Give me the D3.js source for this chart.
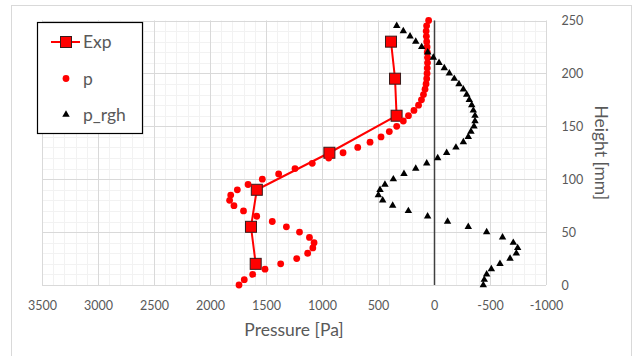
<!DOCTYPE html>
<html>
<head>
<meta charset="utf-8">
<script src="https://cdn.jsdelivr.net/npm/d3@7"></script>
<style>
  body { margin: 0; background: #fff; }
  svg { display: block; font-family: Lato, "Open Sans", sans-serif; }
</style>
</head>
<body>
<svg id="chart"></svg>
<script>
// Exp measurements
const expHeight = [20, 55, 90, 125, 160, 195, 230];
const expPressure = [1592, 1634, 1582, 934, 334, 348, 384];

// simulated p (5 mm steps, 0..250)
const pHeight = [0, 5, 10, 15, 20, 25, 30, 35, 40, 45, 50, 55, 60, 65, 70, 75, 80, 85, 90, 95,
  100, 105, 110, 115, 120, 125, 130, 135, 140, 145, 150, 155, 160, 165, 170, 175, 180, 185, 190, 195,
  200, 205, 210, 215, 220, 225, 230, 235, 240, 245, 250];
const pPressure = [1741, 1694, 1619, 1509, 1369, 1226, 1128, 1082, 1071, 1112, 1201, 1318, 1444, 1583, 1701, 1786, 1825, 1815, 1756, 1660,
  1533, 1387, 1241, 1087, 940, 812, 681, 571, 473, 399, 333, 274, 228, 179, 138, 112, 94, 80, 71, 65,
  62, 60, 58, 58, 60, 62, 65, 68, 70, 66, 48];

// simulated p_rgh (5 mm steps, 0..245)
const rghHeight = [0, 5, 10, 15, 20, 25, 30, 35, 40, 45, 50, 55, 60, 65, 70, 75, 80, 85, 90, 95,
  100, 105, 110, 115, 120, 125, 130, 135, 140, 145, 150, 155, 160, 165, 170, 175, 180, 185, 190, 195,
  200, 205, 210, 215, 220, 225, 230, 235, 240, 245];
const rghPressure = [-440, -449, -470, -512, -589, -679, -735, -747, -708, -612, -470, -306, -121, 57, 229, 369, 458, 497, 482, 438,
  363, 268, 163, 65, -33, -113, -196, -262, -306, -330, -357, -366, -366, -351, -337, -315, -292, -262, -223, -181,
  -137, -92, -45, 6, 56, 110, 163, 214, 274, 333];

const xTicks = [3500, 3000, 2500, 2000, 1500, 1000, 500, 0, -500, -1000];
const yTicks = [0, 50, 100, 150, 200, 250];
const legendLabels = ['Exp', 'p', 'p_rgh'];

const width = 636, height = 356;
const plot = { left: 42, right: 546, top: 20.5, bottom: 285 };
const textColor = '#595959';

const svg = d3.select('#chart')
  .attr('width', width)
  .attr('height', height);

// chart area border
svg.append('rect')
  .attr('x', 11.5).attr('y', 5.5)
  .attr('width', 620).attr('height', 370)
  .attr('fill', '#fff')
  .attr('stroke', '#d9d9d9');

// scales (x reversed, as in the reference)
const x = d3.scaleLinear().domain([3500, -1000]).range([plot.left, plot.right]);
const y = d3.scaleLinear().domain([0, 250]).range([plot.bottom, plot.top]);

// minor gridlines
const grid = svg.append('g');
grid.selectAll('.vminor')
  .data(d3.range(-1000, 3501, 100))
  .join('line')
  .attr('x1', d => Math.round(x(d)) + 0.5).attr('x2', d => Math.round(x(d)) + 0.5)
  .attr('y1', plot.top).attr('y2', plot.bottom)
  .attr('stroke', '#f2f2f2');
grid.selectAll('.hminor')
  .data(d3.range(0, 251, 10))
  .join('line')
  .attr('x1', plot.left).attr('x2', plot.right)
  .attr('y1', d => Math.round(y(d)) + 0.5).attr('y2', d => Math.round(y(d)) + 0.5)
  .attr('stroke', '#f2f2f2');

// major gridlines
grid.selectAll('.vmajor')
  .data(xTicks)
  .join('line')
  .attr('x1', d => Math.round(x(d)) + 0.5).attr('x2', d => Math.round(x(d)) + 0.5)
  .attr('y1', plot.top).attr('y2', plot.bottom)
  .attr('stroke', '#d9d9d9');
grid.selectAll('.hmajor')
  .data(yTicks)
  .join('line')
  .attr('x1', plot.left).attr('x2', plot.right)
  .attr('y1', d => Math.round(y(d)) + 0.5).attr('y2', d => Math.round(y(d)) + 0.5)
  .attr('stroke', '#d9d9d9');

// vertical axis line at 0 Pa
svg.append('line')
  .attr('x1', Math.round(x(0)) + 0.5).attr('x2', Math.round(x(0)) + 0.5)
  .attr('y1', plot.top).attr('y2', plot.bottom)
  .attr('stroke', '#404040')
  .attr('stroke-width', 1.5);

// x axis labels (plain hyphen minus, no thousands separator)
const xAxis = svg.append('g')
  .attr('transform', 'translate(0,' + plot.bottom + ')')
  .call(d3.axisBottom(x).tickValues(xTicks).tickSize(0).tickPadding(16)
    .tickFormat(d => String(d)));
xAxis.select('.domain').remove();
xAxis.selectAll('text')
  .attr('fill', textColor)
  .attr('font-family', 'Lato, sans-serif')
  .attr('font-size', 12.5);

// y axis labels on the right
const yAxis = svg.append('g')
  .attr('transform', 'translate(' + plot.right + ',0)')
  .call(d3.axisRight(y).tickValues(yTicks).tickSize(0).tickPadding(15.5)
    .tickFormat(d => String(d)));
yAxis.select('.domain').remove();
yAxis.selectAll('text')
  .attr('fill', textColor)
  .attr('font-family', 'Lato, sans-serif')
  .attr('font-size', 12.5);

// axis titles
svg.append('text')
  .attr('x', (plot.left + plot.right) / 2)
  .attr('y', 336)
  .attr('text-anchor', 'middle')
  .attr('font-size', 17.5)
  .attr('fill', textColor)
  .text('Pressure [Pa]');

svg.append('text')
  .attr('transform', 'translate(601,' + (plot.top + plot.bottom) / 2 + ') rotate(90)')
  .attr('text-anchor', 'middle')
  .attr('dy', '0.35em')
  .attr('font-size', 17.5)
  .attr('fill', textColor)
  .text('Height [mm]');

// Exp series: line + squares
const expData = expHeight.map((h, i) => ({ h: h, p: expPressure[i] }));
svg.append('path')
  .datum(expData)
  .attr('fill', 'none')
  .attr('stroke', '#ff0000')
  .attr('stroke-width', 2)
  .attr('d', d3.line().x(d => x(d.p)).y(d => y(d.h)));

const sq = 11;
svg.append('g').selectAll('rect')
  .data(expData)
  .join('rect')
  .attr('x', d => x(d.p) - sq / 2)
  .attr('y', d => y(d.h) - sq / 2)
  .attr('width', sq).attr('height', sq)
  .attr('fill', '#ff0000')
  .attr('stroke', '#3a1a1a')
  .attr('stroke-width', 1);

// p series: red dots
svg.append('g').selectAll('circle')
  .data(pHeight.map((h, i) => ({ h: h, p: pPressure[i] })))
  .join('circle')
  .attr('cx', d => x(d.p))
  .attr('cy', d => y(d.h))
  .attr('r', 3.4)
  .attr('fill', '#ff0000');

// p_rgh series: black triangles
const tri = d3.symbol().type(d3.symbolTriangle).size(24);
svg.append('g').selectAll('path')
  .data(rghHeight.map((h, i) => ({ h: h, p: rghPressure[i] })))
  .join('path')
  .attr('transform', d => 'translate(' + x(d.p) + ',' + y(d.h) + ')')
  .attr('d', tri)
  .attr('fill', '#000');

// legend
const legend = svg.append('g');
legend.append('rect')
  .attr('x', 37.5).attr('y', 22.5)
  .attr('width', 105).attr('height', 111)
  .attr('fill', '#fff')
  .attr('stroke', '#000')
  .attr('stroke-width', 1.2);

const rowY = [42, 78.5, 114.5];
legend.append('line')
  .attr('x1', 51).attr('x2', 80)
  .attr('y1', rowY[0]).attr('y2', rowY[0])
  .attr('stroke', '#ff0000').attr('stroke-width', 2);
legend.append('rect')
  .attr('x', 66 - sq / 2).attr('y', rowY[0] - sq / 2)
  .attr('width', sq).attr('height', sq)
  .attr('fill', '#ff0000')
  .attr('stroke', '#3a1a1a');
legend.append('circle')
  .attr('cx', 66).attr('cy', rowY[1]).attr('r', 3.4)
  .attr('fill', '#ff0000');
legend.append('path')
  .attr('transform', 'translate(66,' + rowY[2] + ')')
  .attr('d', tri)
  .attr('fill', '#000');

legend.selectAll('text')
  .data(legendLabels)
  .join('text')
  .attr('x', 83)
  .attr('y', (d, i) => rowY[i])
  .attr('dy', '0.35em')
  .attr('font-size', 17.5)
  .attr('fill', textColor)
  .text(d => d);
</script>
</body>
</html>
